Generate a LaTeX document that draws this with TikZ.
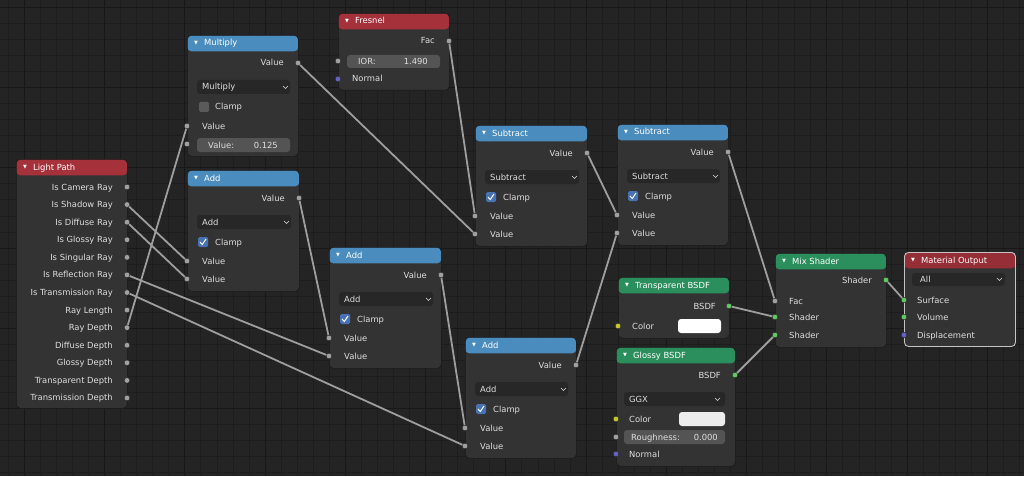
\documentclass[tikz,border=0pt]{standalone}
\usepackage{fontspec}
\setmainfont{DejaVu Sans}
\newcommand\uif{\fontsize{8.4}{10}\selectfont}
\definecolor{bg}{HTML}{242424}
\definecolor{gridc}{HTML}{1D1D1D}
\definecolor{gridM}{HTML}{181818}
\definecolor{body}{HTML}{333333}
\definecolor{edge}{HTML}{1A1A1A}
\definecolor{hred}{HTML}{A5313A}
\definecolor{hredo}{HTML}{952E36}
\definecolor{hblue}{HTML}{4A8CBD}
\definecolor{hgreen}{HTML}{2A8F5C}
\definecolor{txt}{HTML}{DEDEDE}
\definecolor{sgrey}{HTML}{A1A1A1}
\definecolor{sgreen}{HTML}{63C763}
\definecolor{syellow}{HTML}{C7C729}
\definecolor{sblue}{HTML}{6363C7}
\definecolor{linkc}{HTML}{9E9E9E}
\definecolor{ddc}{HTML}{272727}
\definecolor{fieldc}{HTML}{545454}
\definecolor{chk}{HTML}{4772B3}
\definecolor{chkoff}{HTML}{5A5A5A}
\definecolor{outl}{HTML}{C4C4C4}
\tikzset{
  bnode/.style={rectangle, rounded corners=4pt, fill=body, draw=edge, line width=0.6pt,
    inner sep=0pt, anchor=north west,
    path picture={\fill[#1] (path picture bounding box.north west) rectangle ([yshift=-16pt]path picture bounding box.north east);}},
  tri/.style={anchor=west, inner sep=0pt, text=white, font=\fontsize{5}{5}\selectfont},
  ttl/.style={anchor=base west, yshift=-3pt, inner sep=0pt, text=white, font=\uif},
  lr/.style={anchor=base east, yshift=-3pt, inner sep=0pt, text=txt, font=\uif},
  ll/.style={anchor=base west, yshift=-3pt, inner sep=0pt, text=txt, font=\uif},
  dd/.style={fill=ddc, rounded corners=3pt},
  fld/.style={fill=fieldc, rounded corners=3pt},
  chev/.style={draw=txt, line width=0.6pt},
  cbon/.style={fill=chk, rounded corners=1.5pt},
  cboff/.style={fill=chkoff, rounded corners=1.5pt},
  tick/.style={draw=white, line width=1pt},
  swatch/.style={rounded corners=3pt},
  link/.style={draw=linkc, line width=1.8pt},
  sock/.style={circle, fill=#1, draw=black!85, line width=0.4pt, minimum size=5.6pt, inner sep=0pt},
  gridl/.style={draw=gridc, line width=0.9pt},
  gridmaj/.style={draw=gridM, line width=1pt}
}
% math node: #1 name, #2 left, #3 top, #4 op, #5 checked(1)/multiply(0), #6 width
\newcommand\mathnode[6]{%
\begin{scope}[shift={(#2,#3)}]
  \node[bnode=hblue, minimum width=#6pt, minimum height=121pt] (#1) at (0,0) {};
  \node[tri] (#1-tri) at (7,8) {▼};
  \node[ttl] (#1-title) at (17,8) {#4};
  \coordinate (#1-out) at (#6,28);
  \node[lr] (#1-outl) at ({#6-14},28) {Value};
  \fill[dd] (10,45) rectangle ({#6-8},59);
  \node[ll] (#1-op) at (15,52) {#4};
  \draw[chev] ({#6-15},51) -- ({#6-12.5},53.5) -- ({#6-10},51);
  \ifnum#5=1
    \fill[cbon] (11,67) rectangle (21,77);
    \draw[tick] (13,72) -- (15.3,74.5) -- (19,69);
  \else
    \fill[cboff] (12,67) rectangle (22,77);
  \fi
  \node[ll] (#1-cl) at (28,72) {Clamp};
  \coordinate (#1-in1) at (0,91);
  \node[ll] (#1-l1) at (15,91) {Value};
  \coordinate (#1-in2) at (0,109);
  \ifnum#5=1
    \node[ll] (#1-l2) at (15,109) {Value};
  \else
    \fill[fld] (10,103) rectangle (103,117);
    \node[ll] (#1-fl) at (21,110) {Value:};
    \node[lr] (#1-fv) at (91,110) {0.125};
  \fi
\end{scope}}
\begin{document}
\begin{tikzpicture}[x=1pt,y=-1pt]
\fill[bg] (0,0) rectangle (1024,476);
\useasboundingbox (0,0) rectangle (1024,476);
\foreach \i in {0,...,63} {\draw[gridl] ({8.3+16.05*\i},0) -- ++(0,476);}
\foreach \i in {0,...,29} {\draw[gridl] (0,{7.3+16.05*\i}) -- ++(1024,0);}
\foreach \i in {0,...,12} {\draw[gridmaj] ({24.35+80.25*\i},0) -- ++(0,476);}
\foreach \i in {0,...,5} {\draw[gridmaj] (0,{7.3+80.25*\i}) -- ++(1024,0);}

% ---------- Light Path
\node[bnode=hred, minimum width=111pt, minimum height=249pt] (lp) at (16,159) {};
\node[tri] (lp-tri) at (23,167) {▼};
\node[ttl] (lp-title) at (33,167) {Light Path};
\foreach \lbl [count=\k from 0] in {Is Camera Ray,Is Shadow Ray,Is Diffuse Ray,Is Glossy Ray,Is Singular Ray,Is Reflection Ray,Is Transmission Ray,Ray Length,Ray Depth,Diffuse Depth,Glossy Depth,Transparent Depth,Transmission Depth}{
  \coordinate (lp-\k) at (127,{187+17.58*\k});
  \node[lr] (lp-l\k) at (113,{187+17.58*\k}) {\lbl};
}

% ---------- Fresnel
\node[bnode=hred, minimum width=111pt, minimum height=77pt] (fr) at (338,13) {};
\node[tri] (fr-tri) at (345,21) {▼};
\node[ttl] (fr-title) at (355,21) {Fresnel};
\coordinate (fr-fac) at (449,41);
\node[lr] (fr-facl) at (435,41) {Fac};
\coordinate (fr-ior) at (338,61);
\fill[fld] (347,55) rectangle (440,68);
\node[ll] (fr-iorl) at (358,61.5) {IOR:};
\node[lr] (fr-iorv) at (428,61.5) {1.490};
\coordinate (fr-nor) at (338,79);
\node[ll] (fr-norl) at (352,79) {Normal};

% ---------- Math nodes
\mathnode{mul}{187}{35}{Multiply}{0}{111}
\mathnode{add1}{187}{170}{Add}{1}{112}
\mathnode{add2}{329}{247}{Add}{1}{112}
\mathnode{add3}{465}{337}{Add}{1}{111}
\mathnode{sub1}{475}{125}{Subtract}{1}{112}
\mathnode{sub2}{617}{124}{Subtract}{1}{111}

% ---------- Transparent BSDF
\node[bnode=hgreen, minimum width=111pt, minimum height=61pt] (tr) at (618,277) {};
\node[tri] (tr-tri) at (625,285) {▼};
\node[ttl] (tr-title) at (635,285) {Transparent BSDF};
\coordinate (tr-bsdf) at (729,306);
\node[lr] (tr-bsdfl) at (716,306) {BSDF};
\coordinate (tr-col) at (618,326);
\node[ll] (tr-coll) at (632,326) {Color};
\fill[swatch, white] (678,319) rectangle (721,333);

% ---------- Glossy BSDF
\node[bnode=hgreen, minimum width=119pt, minimum height=119pt] (gl) at (616,347) {};
\node[tri] (gl-tri) at (623,355) {▼};
\node[ttl] (gl-title) at (633,355) {Glossy BSDF};
\coordinate (gl-bsdf) at (735,375);
\node[lr] (gl-bsdfl) at (721,375) {BSDF};
\fill[dd] (624,392) rectangle (725,406);
\node[ll] (gl-dd) at (629,399) {GGX};
\draw[chev] (715,398) -- (717.5,400.5) -- (720,398);
\coordinate (gl-col) at (616,419);
\node[ll] (gl-coll) at (629,419) {Color};
\fill[swatch, fill=white!93!black] (679,412) rectangle (725,426);
\coordinate (gl-rough) at (616,437);
\fill[fld] (624,430) rectangle (725,444);
\node[ll] (gl-roughl) at (631,437) {Roughness:};
\node[lr] (gl-roughv) at (718,437) {0.000};
\coordinate (gl-nor) at (616,454);
\node[ll] (gl-norl) at (629,454) {Normal};

% ---------- Mix Shader
\node[bnode=hgreen, minimum width=111pt, minimum height=94pt] (mix) at (775,253) {};
\node[tri] (mix-tri) at (782,261) {▼};
\node[ttl] (mix-title) at (792,261) {Mix Shader};
\coordinate (mix-out) at (886,280);
\node[lr] (mix-outl) at (872,280) {Shader};
\coordinate (mix-fac) at (775,301);
\node[ll] (mix-facl) at (789,301) {Fac};
\coordinate (mix-sh1) at (775,317);
\node[ll] (mix-sh1l) at (789,317) {Shader};
\coordinate (mix-sh2) at (775,335);
\node[ll] (mix-sh2l) at (789,335) {Shader};

% ---------- Material Output
\node[bnode=hredo, draw=outl, line width=0.9pt, minimum width=111pt, minimum height=94pt] (mo) at (904,252) {};
\node[tri] (mo-tri) at (911,260) {▼};
\node[ttl] (mo-title) at (921,260) {Material Output};
\fill[dd] (912,273) rectangle (1005,286);
\node[ll] (mo-dd) at (920,279.5) {All};
\draw[chev] (997,278) -- (999.5,280.5) -- (1002,278);
\coordinate (mo-surf) at (904,300);
\node[ll] (mo-surfl) at (917,300) {Surface};
\coordinate (mo-vol) at (904,317);
\node[ll] (mo-voll) at (917,317) {Volume};
\coordinate (mo-disp) at (904,335);
\node[ll] (mo-displ) at (917,335) {Displacement};

% ---------- Links
\draw[link] (lp-8) -- (mul-in1);
\draw[link] (lp-1) -- (add1-in1);
\draw[link] (lp-2) -- (add1-in2);
\draw[link] (lp-5) -- (add2-in2);
\draw[link] (lp-6) -- (add3-in2);
\draw[link] (add1-out) -- (add2-in1);
\draw[link] (mul-out) -- (sub1-in2);
\draw[link] (fr-fac) -- (sub1-in1);
\draw[link] (sub1-out) -- (sub2-in1);
\draw[link] (add2-out) -- (add3-in1);
\draw[link] (add3-out) -- (sub2-in2);
\draw[link] (sub2-out) -- (mix-fac);
\draw[link] (tr-bsdf) -- (mix-sh1);
\draw[link] (gl-bsdf) -- (mix-sh2);
\draw[link] (mix-out) -- (mo-surf);

% ---------- Sockets
\foreach \k in {0,...,12} {\node[sock=sgrey] (lp-s\k) at (lp-\k) {};}
\foreach \n in {mul,add1,add2,add3,sub1,sub2} {
  \node[sock=sgrey] (\n-so) at (\n-out) {};
  \node[sock=sgrey] (\n-s1) at (\n-in1) {};
  \node[sock=sgrey] (\n-s2) at (\n-in2) {};
}
\node[sock=sgrey] (fr-sfac) at (fr-fac) {};
\node[sock=sgrey] (fr-sior) at (fr-ior) {};
\node[sock=sblue] (fr-snor) at (fr-nor) {};
\node[sock=sgreen] (tr-sbsdf) at (tr-bsdf) {};
\node[sock=syellow] (tr-scol) at (tr-col) {};
\node[sock=sgreen] (gl-sbsdf) at (gl-bsdf) {};
\node[sock=syellow] (gl-scol) at (gl-col) {};
\node[sock=sgrey] (gl-srough) at (gl-rough) {};
\node[sock=sblue] (gl-snor) at (gl-nor) {};
\node[sock=sgreen] (mix-sout) at (mix-out) {};
\node[sock=sgrey] (mix-sfac) at (mix-fac) {};
\node[sock=sgreen] (mix-ssh1) at (mix-sh1) {};
\node[sock=sgreen] (mix-ssh2) at (mix-sh2) {};
\node[sock=sgreen] (mo-ssurf) at (mo-surf) {};
\node[sock=sgreen] (mo-svol) at (mo-vol) {};
\node[sock=sblue] (mo-sdisp) at (mo-disp) {};
\end{tikzpicture}
\end{document}
